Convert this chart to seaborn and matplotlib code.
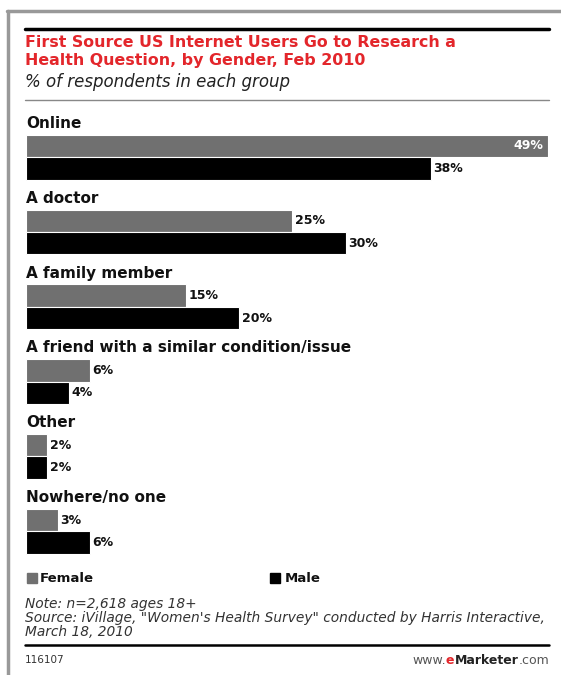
import matplotlib
matplotlib.use("Agg")
import matplotlib.pyplot as plt
import seaborn as sns
import pandas as pd
from matplotlib.lines import Line2D
from matplotlib.patches import Rectangle

categories = ["Online", "A doctor", "A family member",
              "A friend with a similar condition/issue", "Other", "Nowhere/no one"]
female = [49, 25, 15, 6, 2, 3]
male = [38, 30, 20, 4, 2, 6]
genders = ["Female", "Male"]
colors = {"Female": "#707070", "Male": "#000000"}

df = pd.DataFrame({
    "category": categories * 2,
    "gender": ["Female"] * len(categories) + ["Male"] * len(categories),
    "value": female + male,
})

sns.set_theme(style="white")
plt.rcParams["font.family"] = ["DejaVu Sans"]

W, H = 561, 675
fig = plt.figure(figsize=(W / 100, H / 100), dpi=100)
fig.patch.set_facecolor("white")

def fx(px):
    return px / W

def fy(py):
    return 1 - py / H

ax = fig.add_axes([fx(26), fy(565), fx(548) - fx(26), fy(110) - fy(565)])
sns.barplot(data=df, y="category", x="value", hue="gender", orient="h",
            palette=colors, width=0.6, order=categories, hue_order=genders,
            edgecolor="white", linewidth=0.8, legend=False, ax=ax)
ax.set_xlim(0, 49)
ax.set_ylim(5.45, -0.63)
ax.set_xlabel("")
ax.set_ylabel("")
ax.set_xticks([])
ax.set_yticks([])
for s in ax.spines.values():
    s.set_visible(False)
ax.patch.set_alpha(0)

# category labels above each group
for i, c in enumerate(categories):
    ax.text(0, i - 0.35, c, ha="left", va="bottom", fontsize=11,
            fontweight="bold", color="#111111")

# value labels
for container in ax.containers:
    for p in container:
        v = p.get_width()
        yc = p.get_y() + p.get_height() / 2
        if v >= 45:
            ax.text(v - 0.4, yc, f"{v:.0f}%", ha="right", va="center",
                    fontsize=9, fontweight="bold", color="white")
        else:
            ax.text(v + 0.25, yc, f"{v:.0f}%", ha="left", va="center",
                    fontsize=9, fontweight="bold", color="#111111")

# frame
fig.add_artist(Line2D([fx(7), 1], [fy(11), fy(11)], color="#999999", lw=2.5))
fig.add_artist(Line2D([fx(8), fx(8)], [fy(11), 0], color="#999999", lw=2.5))

# top black line
fig.add_artist(Line2D([fx(25), fx(549)], [fy(29), fy(29)], color="black", lw=2.5))
# title
fig.text(fx(25), fy(35), "First Source US Internet Users Go to Research a\nHealth Question, by Gender, Feb 2010",
         ha="left", va="top", fontsize=11.4, fontweight="bold", color="#e3262b",
         linespacing=1.25)
fig.text(fx(25), fy(73), "% of respondents in each group", ha="left", va="top",
         fontsize=12, style="italic", color="#222222")
fig.add_artist(Line2D([fx(25), fx(549)], [fy(100), fy(100)], color="#888888", lw=1))

# legend
for x0, g, tx in [(27, "Female", 40), (270, "Male", 285)]:
    fig.add_artist(Rectangle((fx(x0), fy(583)), fx(10), 10 / H,
                             color=colors[g], transform=fig.transFigure))
    fig.text(fx(tx), fy(578), g, ha="left", va="center", fontsize=9.5,
             fontweight="bold", color="#111111")

# notes
fig.text(fx(25), fy(597), "Note: n=2,618 ages 18+\nSource: iVillage, \"Women's Health Survey\" conducted by Harris Interactive,\nMarch 18, 2010",
         ha="left", va="top", fontsize=9.9, style="italic", color="#333333",
         linespacing=1.0)
fig.add_artist(Line2D([fx(25), fx(549)], [fy(645), fy(645)], color="black", lw=1.8))
fig.text(fx(25), fy(660), "116107", ha="left", va="center", fontsize=7.5, color="#333333")
# eMarketer logo text built right-aligned
r = fig.canvas.get_renderer()
xr = 549
for s, w, c in [(".com", "normal", "#555555"), ("Marketer", "bold", "#222222"),
                ("e", "bold", "#e3262b"), ("www.", "normal", "#555555")]:
    t = fig.text(fx(xr), fy(660), s, ha="right", va="center", fontsize=9,
                 fontweight=w, color=c)
    bb = t.get_window_extent(r)
    xr = bb.x0

fig.savefig("out.png", dpi=100, facecolor="white")
